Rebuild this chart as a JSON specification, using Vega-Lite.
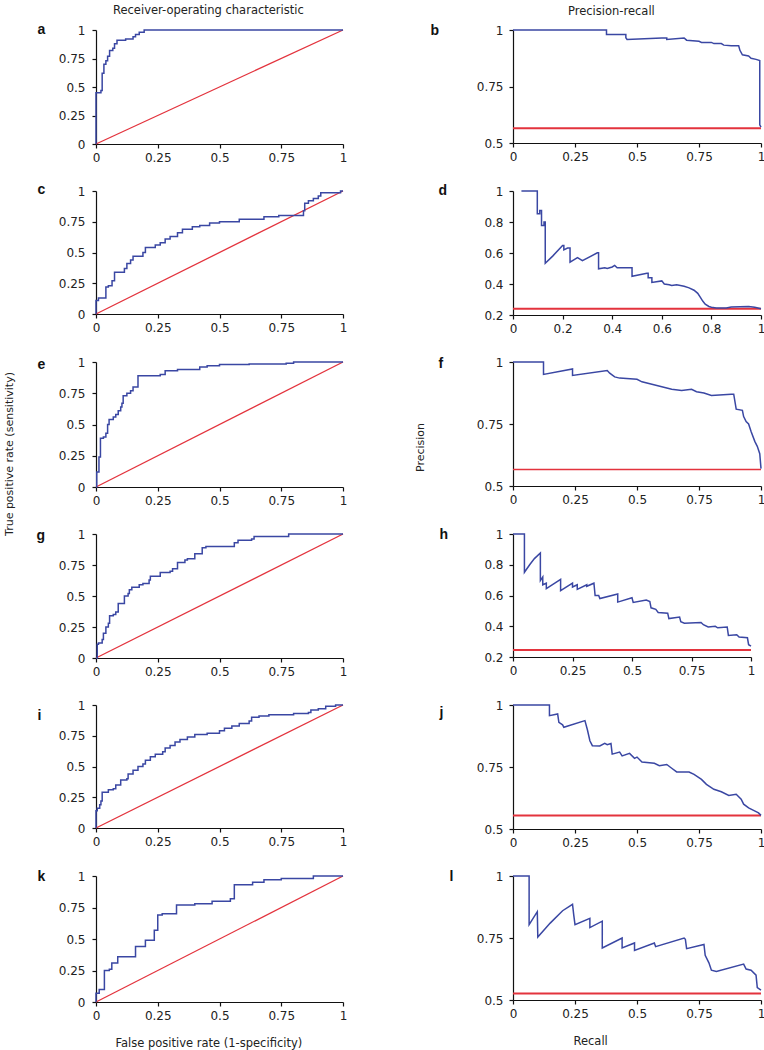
{
  "$schema": "https://vega.github.io/schema/vega-lite/v6.json",
  "padding": {"left": 3, "top": 4, "right": 0, "bottom": 2},
  "config": {
    "view": {"stroke": null},
    "font": "DejaVu Sans",
    "axis": {"grid": false, "domainColor": "#111", "domainWidth": 1.2, "tickColor": "#111", "tickWidth": 1.2, "tickSize": 4, "labelFont": "DejaVu Sans", "labelFontSize": 12, "labelColor": "#222", "labelFlush": false, "labelOverlap": false},
    "axisX": {"labelPadding": 4, "titleFont": "DejaVu Sans", "titleFontSize": 11.5, "titleFontWeight": "normal", "titleColor": "#222", "titleAlign": "left", "titleBaseline": "alphabetic", "titleY": 44},
    "axisY": {"labelPadding": 7, "titleFont": "Liberation Sans", "titleFontSize": 14, "titleFontWeight": "bold", "titleColor": "#111", "titleAngle": 0, "titleAlign": "left", "titleBaseline": "alphabetic"},
    "title": {"font": "DejaVu Sans", "fontSize": 11.5, "fontWeight": "normal", "color": "#222"}
  },
  "datasets": {
    "curves": [
      {"p":"a","s":"r","x":0,"y":0},{"p":"a","s":"r","x":1,"y":1},
      {"p":"a","s":"m","x":0,"y":0},{"p":"a","s":"m","x":0,"y":0.45},{"p":"a","s":"m","x":0.02,"y":0.47},{"p":"a","s":"m","x":0.025,"y":0.62},{"p":"a","s":"m","x":0.032,"y":0.7},{"p":"a","s":"m","x":0.04,"y":0.73},{"p":"a","s":"m","x":0.047,"y":0.77},{"p":"a","s":"m","x":0.055,"y":0.82},{"p":"a","s":"m","x":0.068,"y":0.84},{"p":"a","s":"m","x":0.075,"y":0.88},{"p":"a","s":"m","x":0.085,"y":0.91},{"p":"a","s":"m","x":0.12,"y":0.92},{"p":"a","s":"m","x":0.15,"y":0.94},{"p":"a","s":"m","x":0.16,"y":0.96},{"p":"a","s":"m","x":0.175,"y":0.98},{"p":"a","s":"m","x":0.195,"y":1},{"p":"a","s":"m","x":1,"y":1},

      {"p":"c","s":"r","x":0,"y":0},{"p":"c","s":"r","x":1,"y":1},
      {"p":"c","s":"m","x":0,"y":0},{"p":"c","s":"m","x":0,"y":0.11},{"p":"c","s":"m","x":0.01,"y":0.13},{"p":"c","s":"m","x":0.04,"y":0.22},{"p":"c","s":"m","x":0.05,"y":0.23},{"p":"c","s":"m","x":0.065,"y":0.27},{"p":"c","s":"m","x":0.075,"y":0.34},{"p":"c","s":"m","x":0.115,"y":0.37},{"p":"c","s":"m","x":0.125,"y":0.41},{"p":"c","s":"m","x":0.14,"y":0.44},{"p":"c","s":"m","x":0.15,"y":0.47},{"p":"c","s":"m","x":0.19,"y":0.5},{"p":"c","s":"m","x":0.2,"y":0.54},{"p":"c","s":"m","x":0.24,"y":0.56},{"p":"c","s":"m","x":0.26,"y":0.58},{"p":"c","s":"m","x":0.28,"y":0.61},{"p":"c","s":"m","x":0.3,"y":0.63},{"p":"c","s":"m","x":0.33,"y":0.66},{"p":"c","s":"m","x":0.35,"y":0.69},{"p":"c","s":"m","x":0.39,"y":0.71},{"p":"c","s":"m","x":0.42,"y":0.72},{"p":"c","s":"m","x":0.46,"y":0.74},{"p":"c","s":"m","x":0.5,"y":0.75},{"p":"c","s":"m","x":0.58,"y":0.77},{"p":"c","s":"m","x":0.68,"y":0.79},{"p":"c","s":"m","x":0.74,"y":0.8},{"p":"c","s":"m","x":0.84,"y":0.84},{"p":"c","s":"m","x":0.845,"y":0.9},{"p":"c","s":"m","x":0.86,"y":0.92},{"p":"c","s":"m","x":0.88,"y":0.94},{"p":"c","s":"m","x":0.9,"y":0.96},{"p":"c","s":"m","x":0.91,"y":0.985},{"p":"c","s":"m","x":0.99,"y":1},{"p":"c","s":"m","x":1,"y":1},

      {"p":"e","s":"r","x":0,"y":0},{"p":"e","s":"r","x":1,"y":1},
      {"p":"e","s":"m","x":0,"y":0},{"p":"e","s":"m","x":0.003,"y":0.12},{"p":"e","s":"m","x":0.012,"y":0.24},{"p":"e","s":"m","x":0.018,"y":0.39},{"p":"e","s":"m","x":0.03,"y":0.4},{"p":"e","s":"m","x":0.04,"y":0.43},{"p":"e","s":"m","x":0.047,"y":0.5},{"p":"e","s":"m","x":0.053,"y":0.54},{"p":"e","s":"m","x":0.07,"y":0.56},{"p":"e","s":"m","x":0.08,"y":0.58},{"p":"e","s":"m","x":0.09,"y":0.61},{"p":"e","s":"m","x":0.1,"y":0.64},{"p":"e","s":"m","x":0.105,"y":0.67},{"p":"e","s":"m","x":0.11,"y":0.73},{"p":"e","s":"m","x":0.125,"y":0.75},{"p":"e","s":"m","x":0.14,"y":0.77},{"p":"e","s":"m","x":0.15,"y":0.8},{"p":"e","s":"m","x":0.17,"y":0.89},{"p":"e","s":"m","x":0.26,"y":0.9},{"p":"e","s":"m","x":0.28,"y":0.93},{"p":"e","s":"m","x":0.33,"y":0.94},{"p":"e","s":"m","x":0.42,"y":0.96},{"p":"e","s":"m","x":0.45,"y":0.97},{"p":"e","s":"m","x":0.5,"y":0.98},{"p":"e","s":"m","x":0.62,"y":0.985},{"p":"e","s":"m","x":0.77,"y":0.99},{"p":"e","s":"m","x":0.8,"y":1},{"p":"e","s":"m","x":1,"y":1},

      {"p":"g","s":"r","x":0,"y":0},{"p":"g","s":"r","x":1,"y":1},
      {"p":"g","s":"m","x":0,"y":0},{"p":"g","s":"m","x":0.005,"y":0.11},{"p":"g","s":"m","x":0.01,"y":0.12},{"p":"g","s":"m","x":0.025,"y":0.15},{"p":"g","s":"m","x":0.03,"y":0.2},{"p":"g","s":"m","x":0.04,"y":0.25},{"p":"g","s":"m","x":0.05,"y":0.28},{"p":"g","s":"m","x":0.055,"y":0.34},{"p":"g","s":"m","x":0.07,"y":0.35},{"p":"g","s":"m","x":0.08,"y":0.37},{"p":"g","s":"m","x":0.09,"y":0.44},{"p":"g","s":"m","x":0.115,"y":0.5},{"p":"g","s":"m","x":0.13,"y":0.52},{"p":"g","s":"m","x":0.135,"y":0.55},{"p":"g","s":"m","x":0.145,"y":0.57},{"p":"g","s":"m","x":0.175,"y":0.59},{"p":"g","s":"m","x":0.19,"y":0.6},{"p":"g","s":"m","x":0.215,"y":0.63},{"p":"g","s":"m","x":0.22,"y":0.66},{"p":"g","s":"m","x":0.26,"y":0.69},{"p":"g","s":"m","x":0.3,"y":0.7},{"p":"g","s":"m","x":0.31,"y":0.72},{"p":"g","s":"m","x":0.33,"y":0.77},{"p":"g","s":"m","x":0.36,"y":0.79},{"p":"g","s":"m","x":0.37,"y":0.8},{"p":"g","s":"m","x":0.4,"y":0.84},{"p":"g","s":"m","x":0.43,"y":0.89},{"p":"g","s":"m","x":0.445,"y":0.9},{"p":"g","s":"m","x":0.56,"y":0.93},{"p":"g","s":"m","x":0.575,"y":0.95},{"p":"g","s":"m","x":0.63,"y":0.96},{"p":"g","s":"m","x":0.64,"y":0.98},{"p":"g","s":"m","x":0.78,"y":1},{"p":"g","s":"m","x":1,"y":1},

      {"p":"i","s":"r","x":0,"y":0},{"p":"i","s":"r","x":1,"y":1},
      {"p":"i","s":"m","x":0,"y":0},{"p":"i","s":"m","x":0,"y":0.14},{"p":"i","s":"m","x":0.005,"y":0.16},{"p":"i","s":"m","x":0.015,"y":0.19},{"p":"i","s":"m","x":0.02,"y":0.22},{"p":"i","s":"m","x":0.025,"y":0.29},{"p":"i","s":"m","x":0.05,"y":0.31},{"p":"i","s":"m","x":0.07,"y":0.32},{"p":"i","s":"m","x":0.08,"y":0.35},{"p":"i","s":"m","x":0.1,"y":0.39},{"p":"i","s":"m","x":0.125,"y":0.4},{"p":"i","s":"m","x":0.13,"y":0.44},{"p":"i","s":"m","x":0.15,"y":0.47},{"p":"i","s":"m","x":0.17,"y":0.5},{"p":"i","s":"m","x":0.19,"y":0.52},{"p":"i","s":"m","x":0.2,"y":0.55},{"p":"i","s":"m","x":0.22,"y":0.58},{"p":"i","s":"m","x":0.24,"y":0.6},{"p":"i","s":"m","x":0.27,"y":0.62},{"p":"i","s":"m","x":0.28,"y":0.65},{"p":"i","s":"m","x":0.3,"y":0.67},{"p":"i","s":"m","x":0.32,"y":0.7},{"p":"i","s":"m","x":0.34,"y":0.72},{"p":"i","s":"m","x":0.37,"y":0.74},{"p":"i","s":"m","x":0.4,"y":0.76},{"p":"i","s":"m","x":0.45,"y":0.77},{"p":"i","s":"m","x":0.5,"y":0.79},{"p":"i","s":"m","x":0.52,"y":0.81},{"p":"i","s":"m","x":0.55,"y":0.83},{"p":"i","s":"m","x":0.58,"y":0.85},{"p":"i","s":"m","x":0.62,"y":0.87},{"p":"i","s":"m","x":0.63,"y":0.9},{"p":"i","s":"m","x":0.66,"y":0.91},{"p":"i","s":"m","x":0.7,"y":0.92},{"p":"i","s":"m","x":0.8,"y":0.93},{"p":"i","s":"m","x":0.86,"y":0.94},{"p":"i","s":"m","x":0.87,"y":0.96},{"p":"i","s":"m","x":0.9,"y":0.97},{"p":"i","s":"m","x":0.93,"y":0.99},{"p":"i","s":"m","x":0.97,"y":1},{"p":"i","s":"m","x":1,"y":1},

      {"p":"k","s":"r","x":0,"y":0},{"p":"k","s":"r","x":1,"y":1},
      {"p":"k","s":"m","x":0,"y":0},{"p":"k","s":"m","x":0,"y":0.07},{"p":"k","s":"m","x":0.013,"y":0.1},{"p":"k","s":"m","x":0.034,"y":0.25},{"p":"k","s":"m","x":0.054,"y":0.26},{"p":"k","s":"m","x":0.064,"y":0.31},{"p":"k","s":"m","x":0.088,"y":0.36},{"p":"k","s":"m","x":0.16,"y":0.44},{"p":"k","s":"m","x":0.2,"y":0.49},{"p":"k","s":"m","x":0.236,"y":0.57},{"p":"k","s":"m","x":0.25,"y":0.69},{"p":"k","s":"m","x":0.268,"y":0.7},{"p":"k","s":"m","x":0.326,"y":0.77},{"p":"k","s":"m","x":0.4,"y":0.78},{"p":"k","s":"m","x":0.47,"y":0.8},{"p":"k","s":"m","x":0.544,"y":0.82},{"p":"k","s":"m","x":0.56,"y":0.93},{"p":"k","s":"m","x":0.634,"y":0.95},{"p":"k","s":"m","x":0.68,"y":0.97},{"p":"k","s":"m","x":0.75,"y":0.98},{"p":"k","s":"m","x":0.88,"y":1},{"p":"k","s":"m","x":1,"y":1},

      {"p":"b","s":"r","x":0,"y":0.565},{"p":"b","s":"r","x":1,"y":0.565},
      {"p":"b","s":"m","x":0,"y":1},{"p":"b","s":"m","x":0.377,"y":1},{"p":"b","s":"m","x":0.377,"y":0.98},{"p":"b","s":"m","x":0.455,"y":0.98},{"p":"b","s":"m","x":0.455,"y":0.966},{"p":"b","s":"m","x":0.46,"y":0.958},{"p":"b","s":"m","x":0.6,"y":0.965},{"p":"b","s":"m","x":0.62,"y":0.965},{"p":"b","s":"m","x":0.62,"y":0.958},{"p":"b","s":"m","x":0.69,"y":0.965},{"p":"b","s":"m","x":0.7,"y":0.955},{"p":"b","s":"m","x":0.75,"y":0.95},{"p":"b","s":"m","x":0.76,"y":0.945},{"p":"b","s":"m","x":0.8,"y":0.945},{"p":"b","s":"m","x":0.81,"y":0.94},{"p":"b","s":"m","x":0.84,"y":0.94},{"p":"b","s":"m","x":0.85,"y":0.933},{"p":"b","s":"m","x":0.88,"y":0.93},{"p":"b","s":"m","x":0.91,"y":0.93},{"p":"b","s":"m","x":0.915,"y":0.91},{"p":"b","s":"m","x":0.925,"y":0.89},{"p":"b","s":"m","x":0.95,"y":0.885},{"p":"b","s":"m","x":0.96,"y":0.875},{"p":"b","s":"m","x":0.98,"y":0.87},{"p":"b","s":"m","x":0.995,"y":0.865},{"p":"b","s":"m","x":0.995,"y":0.58},{"p":"b","s":"m","x":1,"y":0.57},

      {"p":"d","s":"r","x":0,"y":0.24},{"p":"d","s":"r","x":1,"y":0.24},
      {"p":"d","s":"m","x":0.034,"y":1},{"p":"d","s":"m","x":0.098,"y":1},{"p":"d","s":"m","x":0.098,"y":0.853},{"p":"d","s":"m","x":0.108,"y":0.853},{"p":"d","s":"m","x":0.108,"y":0.875},{"p":"d","s":"m","x":0.115,"y":0.875},{"p":"d","s":"m","x":0.115,"y":0.778},{"p":"d","s":"m","x":0.125,"y":0.778},{"p":"d","s":"m","x":0.125,"y":0.8},{"p":"d","s":"m","x":0.13,"y":0.8},{"p":"d","s":"m","x":0.13,"y":0.534},{"p":"d","s":"m","x":0.16,"y":0.58},{"p":"d","s":"m","x":0.2,"y":0.649},{"p":"d","s":"m","x":0.205,"y":0.649},{"p":"d","s":"m","x":0.205,"y":0.62},{"p":"d","s":"m","x":0.22,"y":0.632},{"p":"d","s":"m","x":0.23,"y":0.632},{"p":"d","s":"m","x":0.23,"y":0.541},{"p":"d","s":"m","x":0.26,"y":0.57},{"p":"d","s":"m","x":0.27,"y":0.56},{"p":"d","s":"m","x":0.28,"y":0.55},{"p":"d","s":"m","x":0.34,"y":0.601},{"p":"d","s":"m","x":0.345,"y":0.601},{"p":"d","s":"m","x":0.345,"y":0.498},{"p":"d","s":"m","x":0.37,"y":0.505},{"p":"d","s":"m","x":0.38,"y":0.5},{"p":"d","s":"m","x":0.4,"y":0.51},{"p":"d","s":"m","x":0.41,"y":0.52},{"p":"d","s":"m","x":0.42,"y":0.505},{"p":"d","s":"m","x":0.48,"y":0.505},{"p":"d","s":"m","x":0.48,"y":0.45},{"p":"d","s":"m","x":0.54,"y":0.47},{"p":"d","s":"m","x":0.545,"y":0.47},{"p":"d","s":"m","x":0.545,"y":0.44},{"p":"d","s":"m","x":0.56,"y":0.44},{"p":"d","s":"m","x":0.56,"y":0.41},{"p":"d","s":"m","x":0.6,"y":0.42},{"p":"d","s":"m","x":0.61,"y":0.4},{"p":"d","s":"m","x":0.63,"y":0.395},{"p":"d","s":"m","x":0.64,"y":0.39},{"p":"d","s":"m","x":0.66,"y":0.395},{"p":"d","s":"m","x":0.69,"y":0.385},{"p":"d","s":"m","x":0.71,"y":0.375},{"p":"d","s":"m","x":0.73,"y":0.36},{"p":"d","s":"m","x":0.745,"y":0.34},{"p":"d","s":"m","x":0.755,"y":0.315},{"p":"d","s":"m","x":0.765,"y":0.29},{"p":"d","s":"m","x":0.775,"y":0.27},{"p":"d","s":"m","x":0.79,"y":0.255},{"p":"d","s":"m","x":0.8,"y":0.25},{"p":"d","s":"m","x":0.82,"y":0.245},{"p":"d","s":"m","x":0.86,"y":0.245},{"p":"d","s":"m","x":0.88,"y":0.252},{"p":"d","s":"m","x":0.95,"y":0.255},{"p":"d","s":"m","x":0.975,"y":0.25},{"p":"d","s":"m","x":1,"y":0.24},

      {"p":"f","s":"r","x":0,"y":0.567},{"p":"f","s":"r","x":1,"y":0.567},
      {"p":"f","s":"m","x":0,"y":1},{"p":"f","s":"m","x":0.123,"y":1},{"p":"f","s":"m","x":0.123,"y":0.95},{"p":"f","s":"m","x":0.24,"y":0.972},{"p":"f","s":"m","x":0.24,"y":0.946},{"p":"f","s":"m","x":0.38,"y":0.966},{"p":"f","s":"m","x":0.39,"y":0.955},{"p":"f","s":"m","x":0.41,"y":0.94},{"p":"f","s":"m","x":0.43,"y":0.935},{"p":"f","s":"m","x":0.5,"y":0.93},{"p":"f","s":"m","x":0.52,"y":0.92},{"p":"f","s":"m","x":0.56,"y":0.91},{"p":"f","s":"m","x":0.6,"y":0.9},{"p":"f","s":"m","x":0.64,"y":0.89},{"p":"f","s":"m","x":0.68,"y":0.885},{"p":"f","s":"m","x":0.72,"y":0.89},{"p":"f","s":"m","x":0.74,"y":0.88},{"p":"f","s":"m","x":0.77,"y":0.875},{"p":"f","s":"m","x":0.8,"y":0.865},{"p":"f","s":"m","x":0.88,"y":0.87},{"p":"f","s":"m","x":0.89,"y":0.87},{"p":"f","s":"m","x":0.9,"y":0.81},{"p":"f","s":"m","x":0.925,"y":0.805},{"p":"f","s":"m","x":0.93,"y":0.78},{"p":"f","s":"m","x":0.94,"y":0.76},{"p":"f","s":"m","x":0.95,"y":0.75},{"p":"f","s":"m","x":0.96,"y":0.72},{"p":"f","s":"m","x":0.975,"y":0.68},{"p":"f","s":"m","x":0.985,"y":0.66},{"p":"f","s":"m","x":0.995,"y":0.63},{"p":"f","s":"m","x":1,"y":0.57},

      {"p":"h","s":"r","x":0,"y":0.245},{"p":"h","s":"r","x":1,"y":0.245},
      {"p":"h","s":"m","x":0,"y":1},{"p":"h","s":"m","x":0.048,"y":1},{"p":"h","s":"m","x":0.048,"y":0.751},{"p":"h","s":"m","x":0.07,"y":0.8},{"p":"h","s":"m","x":0.09,"y":0.84},{"p":"h","s":"m","x":0.115,"y":0.877},{"p":"h","s":"m","x":0.115,"y":0.697},{"p":"h","s":"m","x":0.125,"y":0.72},{"p":"h","s":"m","x":0.125,"y":0.67},{"p":"h","s":"m","x":0.14,"y":0.68},{"p":"h","s":"m","x":0.14,"y":0.645},{"p":"h","s":"m","x":0.2,"y":0.705},{"p":"h","s":"m","x":0.2,"y":0.632},{"p":"h","s":"m","x":0.25,"y":0.68},{"p":"h","s":"m","x":0.25,"y":0.655},{"p":"h","s":"m","x":0.27,"y":0.67},{"p":"h","s":"m","x":0.27,"y":0.64},{"p":"h","s":"m","x":0.31,"y":0.67},{"p":"h","s":"m","x":0.31,"y":0.66},{"p":"h","s":"m","x":0.34,"y":0.68},{"p":"h","s":"m","x":0.345,"y":0.6},{"p":"h","s":"m","x":0.36,"y":0.6},{"p":"h","s":"m","x":0.365,"y":0.58},{"p":"h","s":"m","x":0.44,"y":0.61},{"p":"h","s":"m","x":0.44,"y":0.557},{"p":"h","s":"m","x":0.5,"y":0.585},{"p":"h","s":"m","x":0.505,"y":0.555},{"p":"h","s":"m","x":0.56,"y":0.57},{"p":"h","s":"m","x":0.575,"y":0.56},{"p":"h","s":"m","x":0.58,"y":0.52},{"p":"h","s":"m","x":0.6,"y":0.51},{"p":"h","s":"m","x":0.61,"y":0.49},{"p":"h","s":"m","x":0.65,"y":0.485},{"p":"h","s":"m","x":0.655,"y":0.45},{"p":"h","s":"m","x":0.7,"y":0.46},{"p":"h","s":"m","x":0.705,"y":0.43},{"p":"h","s":"m","x":0.72,"y":0.42},{"p":"h","s":"m","x":0.79,"y":0.425},{"p":"h","s":"m","x":0.8,"y":0.41},{"p":"h","s":"m","x":0.82,"y":0.395},{"p":"h","s":"m","x":0.85,"y":0.4},{"p":"h","s":"m","x":0.86,"y":0.39},{"p":"h","s":"m","x":0.9,"y":0.395},{"p":"h","s":"m","x":0.905,"y":0.34},{"p":"h","s":"m","x":0.94,"y":0.345},{"p":"h","s":"m","x":0.95,"y":0.33},{"p":"h","s":"m","x":0.985,"y":0.325},{"p":"h","s":"m","x":0.99,"y":0.28},{"p":"h","s":"m","x":1,"y":0.27},

      {"p":"j","s":"r","x":0,"y":0.554},{"p":"j","s":"r","x":1,"y":0.554},
      {"p":"j","s":"m","x":0,"y":1},{"p":"j","s":"m","x":0.147,"y":1},{"p":"j","s":"m","x":0.147,"y":0.957},{"p":"j","s":"m","x":0.18,"y":0.964},{"p":"j","s":"m","x":0.185,"y":0.93},{"p":"j","s":"m","x":0.2,"y":0.92},{"p":"j","s":"m","x":0.205,"y":0.91},{"p":"j","s":"m","x":0.29,"y":0.937},{"p":"j","s":"m","x":0.3,"y":0.9},{"p":"j","s":"m","x":0.31,"y":0.856},{"p":"j","s":"m","x":0.32,"y":0.836},{"p":"j","s":"m","x":0.35,"y":0.835},{"p":"j","s":"m","x":0.37,"y":0.845},{"p":"j","s":"m","x":0.38,"y":0.84},{"p":"j","s":"m","x":0.395,"y":0.845},{"p":"j","s":"m","x":0.4,"y":0.802},{"p":"j","s":"m","x":0.43,"y":0.81},{"p":"j","s":"m","x":0.44,"y":0.795},{"p":"j","s":"m","x":0.47,"y":0.805},{"p":"j","s":"m","x":0.49,"y":0.785},{"p":"j","s":"m","x":0.5,"y":0.79},{"p":"j","s":"m","x":0.52,"y":0.77},{"p":"j","s":"m","x":0.57,"y":0.765},{"p":"j","s":"m","x":0.59,"y":0.755},{"p":"j","s":"m","x":0.62,"y":0.76},{"p":"j","s":"m","x":0.64,"y":0.745},{"p":"j","s":"m","x":0.66,"y":0.73},{"p":"j","s":"m","x":0.71,"y":0.73},{"p":"j","s":"m","x":0.73,"y":0.72},{"p":"j","s":"m","x":0.76,"y":0.7},{"p":"j","s":"m","x":0.78,"y":0.68},{"p":"j","s":"m","x":0.81,"y":0.66},{"p":"j","s":"m","x":0.84,"y":0.65},{"p":"j","s":"m","x":0.87,"y":0.635},{"p":"j","s":"m","x":0.9,"y":0.64},{"p":"j","s":"m","x":0.92,"y":0.62},{"p":"j","s":"m","x":0.93,"y":0.6},{"p":"j","s":"m","x":0.95,"y":0.585},{"p":"j","s":"m","x":0.97,"y":0.575},{"p":"j","s":"m","x":0.99,"y":0.565},{"p":"j","s":"m","x":1,"y":0.555},

      {"p":"l","s":"r","x":0,"y":0.526},{"p":"l","s":"r","x":1,"y":0.526},
      {"p":"l","s":"m","x":0,"y":1},{"p":"l","s":"m","x":0.065,"y":1},{"p":"l","s":"m","x":0.065,"y":0.804},{"p":"l","s":"m","x":0.098,"y":0.856},{"p":"l","s":"m","x":0.1,"y":0.754},{"p":"l","s":"m","x":0.15,"y":0.81},{"p":"l","s":"m","x":0.2,"y":0.86},{"p":"l","s":"m","x":0.24,"y":0.886},{"p":"l","s":"m","x":0.245,"y":0.842},{"p":"l","s":"m","x":0.25,"y":0.804},{"p":"l","s":"m","x":0.31,"y":0.829},{"p":"l","s":"m","x":0.31,"y":0.792},{"p":"l","s":"m","x":0.36,"y":0.818},{"p":"l","s":"m","x":0.36,"y":0.71},{"p":"l","s":"m","x":0.44,"y":0.75},{"p":"l","s":"m","x":0.44,"y":0.71},{"p":"l","s":"m","x":0.49,"y":0.73},{"p":"l","s":"m","x":0.49,"y":0.7},{"p":"l","s":"m","x":0.57,"y":0.73},{"p":"l","s":"m","x":0.575,"y":0.715},{"p":"l","s":"m","x":0.69,"y":0.75},{"p":"l","s":"m","x":0.695,"y":0.745},{"p":"l","s":"m","x":0.7,"y":0.707},{"p":"l","s":"m","x":0.77,"y":0.724},{"p":"l","s":"m","x":0.775,"y":0.68},{"p":"l","s":"m","x":0.79,"y":0.65},{"p":"l","s":"m","x":0.8,"y":0.62},{"p":"l","s":"m","x":0.82,"y":0.615},{"p":"l","s":"m","x":0.93,"y":0.645},{"p":"l","s":"m","x":0.94,"y":0.625},{"p":"l","s":"m","x":0.96,"y":0.62},{"p":"l","s":"m","x":0.98,"y":0.6},{"p":"l","s":"m","x":0.985,"y":0.55},{"p":"l","s":"m","x":1,"y":0.54}
    ]
  },
  "data": {"name": "curves"},
  "columns": 2,
  "align": "each",
  "bounds": "flush",
  "spacing": {"row": 47, "column": 170},
  "concat": [
    {
      "width": 247, "height": 114,
      "title": {"text": "Receiver-operating characteristic", "anchor": "start", "frame": "group", "dx": 17, "offset": 6},
      "transform": [{"filter": "datum.p == 'a'"}],
      "encoding": {
        "x": {"field": "x", "type": "quantitative", "scale": {"domain": [0, 1], "nice": false, "zero": false}, "axis": {"values": [0, 0.25, 0.5, 0.75, 1], "format": ".2~f", "title": null}},
        "y": {"field": "y", "type": "quantitative", "scale": {"domain": [0, 1], "nice": false, "zero": false}, "axis": {"values": [0, 0.25, 0.5, 0.75, 1], "format": ".2~f", "title": "a", "titleX": -59, "titleY": 3}},
        "order": {"value": null}
      },
      "layer": [
        {"transform": [{"filter": "datum.s == 'r'"}], "mark": {"type": "line", "color": "#e3333d", "strokeWidth": 1.3}},
        {"transform": [{"filter": "datum.s == 'm'"}], "mark": {"type": "line", "color": "#3a47a3", "strokeWidth": 1.5, "interpolate": "step-after"}}
      ]
    },
    {
      "width": 248, "height": 113,
      "title": {"text": "Precision-recall", "anchor": "start", "frame": "group", "dx": 55, "offset": 6},
      "transform": [{"filter": "datum.p == 'b'"}],
      "encoding": {
        "x": {"field": "x", "type": "quantitative", "scale": {"domain": [0, 1], "nice": false, "zero": false}, "axis": {"values": [0, 0.25, 0.5, 0.75, 1], "format": ".2~f", "title": null}},
        "y": {"field": "y", "type": "quantitative", "scale": {"domain": [0.5, 1], "nice": false, "zero": false}, "axis": {"values": [0.5, 0.75, 1], "format": ".2~f", "labelPadding": 6, "title": "b", "titleX": -83, "titleY": 4}},
        "order": {"value": null}
      },
      "layer": [
        {"transform": [{"filter": "datum.s == 'r'"}], "mark": {"type": "line", "color": "#e3333d", "strokeWidth": 2}},
        {"transform": [{"filter": "datum.s == 'm'"}], "mark": {"type": "line", "color": "#3a47a3", "strokeWidth": 1.5}}
      ]
    },
    {
      "width": 247, "height": 123,
      "transform": [{"filter": "datum.p == 'c'"}],
      "encoding": {
        "x": {"field": "x", "type": "quantitative", "scale": {"domain": [0, 1], "nice": false, "zero": false}, "axis": {"values": [0, 0.25, 0.5, 0.75, 1], "format": ".2~f", "title": null}},
        "y": {"field": "y", "type": "quantitative", "scale": {"domain": [0, 1], "nice": false, "zero": false}, "axis": {"values": [0, 0.25, 0.5, 0.75, 1], "format": ".2~f", "title": "c", "titleX": -59, "titleY": 2}},
        "order": {"value": null}
      },
      "layer": [
        {"transform": [{"filter": "datum.s == 'r'"}], "mark": {"type": "line", "color": "#e3333d", "strokeWidth": 1.3}},
        {"transform": [{"filter": "datum.s == 'm'"}], "mark": {"type": "line", "color": "#3a47a3", "strokeWidth": 1.5, "interpolate": "step-after"}}
      ]
    },
    {
      "width": 248, "height": 124,
      "transform": [{"filter": "datum.p == 'd'"}],
      "encoding": {
        "x": {"field": "x", "type": "quantitative", "scale": {"domain": [0, 1], "nice": false, "zero": false}, "axis": {"values": [0, 0.2, 0.4, 0.6, 0.8, 1], "format": ".2~f", "title": null}},
        "y": {"field": "y", "type": "quantitative", "scale": {"domain": [0.2, 1], "nice": false, "zero": false}, "axis": {"values": [0.2, 0.4, 0.6, 0.8, 1], "format": ".2~f", "labelPadding": 6, "title": "d", "titleX": -75, "titleY": 3}},
        "order": {"value": null}
      },
      "layer": [
        {"transform": [{"filter": "datum.s == 'r'"}], "mark": {"type": "line", "color": "#e3333d", "strokeWidth": 2}},
        {"transform": [{"filter": "datum.s == 'm'"}], "mark": {"type": "line", "color": "#3a47a3", "strokeWidth": 1.5}}
      ]
    },
    {
      "width": 247, "height": 125,
      "title": {"text": "True positive rate (sensitivity)", "orient": "left", "anchor": "middle", "frame": "bounds", "offset": 22, "dx": -23, "fontSize": 11},
      "transform": [{"filter": "datum.p == 'e'"}],
      "encoding": {
        "x": {"field": "x", "type": "quantitative", "scale": {"domain": [0, 1], "nice": false, "zero": false}, "axis": {"values": [0, 0.25, 0.5, 0.75, 1], "format": ".2~f", "title": null}},
        "y": {"field": "y", "type": "quantitative", "scale": {"domain": [0, 1], "nice": false, "zero": false}, "axis": {"values": [0, 0.25, 0.5, 0.75, 1], "format": ".2~f", "title": "e", "titleX": -59, "titleY": 6}},
        "order": {"value": null}
      },
      "layer": [
        {"transform": [{"filter": "datum.s == 'r'"}], "mark": {"type": "line", "color": "#e3333d", "strokeWidth": 1.3}},
        {"transform": [{"filter": "datum.s == 'm'"}], "mark": {"type": "line", "color": "#3a47a3", "strokeWidth": 1.5, "interpolate": "step-after"}}
      ]
    },
    {
      "width": 248, "height": 124,
      "title": {"text": "Precision", "orient": "left", "anchor": "middle", "frame": "bounds", "offset": 12, "dx": -17, "fontSize": 11},
      "transform": [{"filter": "datum.p == 'f'"}],
      "encoding": {
        "x": {"field": "x", "type": "quantitative", "scale": {"domain": [0, 1], "nice": false, "zero": false}, "axis": {"values": [0, 0.25, 0.5, 0.75, 1], "format": ".2~f", "title": null}},
        "y": {"field": "y", "type": "quantitative", "scale": {"domain": [0.5, 1], "nice": false, "zero": false}, "axis": {"values": [0.5, 0.75, 1], "format": ".2~f", "labelPadding": 6, "title": "f", "titleX": -75, "titleY": 5}},
        "order": {"value": null}
      },
      "layer": [
        {"transform": [{"filter": "datum.s == 'r'"}], "mark": {"type": "line", "color": "#e3333d", "strokeWidth": 1.5}},
        {"transform": [{"filter": "datum.s == 'm'"}], "mark": {"type": "line", "color": "#3a47a3", "strokeWidth": 1.5}}
      ]
    },
    {
      "width": 247, "height": 124,
      "transform": [{"filter": "datum.p == 'g'"}],
      "encoding": {
        "x": {"field": "x", "type": "quantitative", "scale": {"domain": [0, 1], "nice": false, "zero": false}, "axis": {"values": [0, 0.25, 0.5, 0.75, 1], "format": ".2~f", "title": null}},
        "y": {"field": "y", "type": "quantitative", "scale": {"domain": [0, 1], "nice": false, "zero": false}, "axis": {"values": [0, 0.25, 0.5, 0.75, 1], "format": ".2~f", "title": "g", "titleX": -60, "titleY": 5}},
        "order": {"value": null}
      },
      "layer": [
        {"transform": [{"filter": "datum.s == 'r'"}], "mark": {"type": "line", "color": "#e3333d", "strokeWidth": 1.3}},
        {"transform": [{"filter": "datum.s == 'm'"}], "mark": {"type": "line", "color": "#3a47a3", "strokeWidth": 1.5, "interpolate": "step-after"}}
      ]
    },
    {
      "width": 238, "height": 123,
      "transform": [{"filter": "datum.p == 'h'"}],
      "encoding": {
        "x": {"field": "x", "type": "quantitative", "scale": {"domain": [0, 1], "nice": false, "zero": false}, "axis": {"values": [0, 0.25, 0.5, 0.75, 1], "format": ".2~f", "title": null}},
        "y": {"field": "y", "type": "quantitative", "scale": {"domain": [0.2, 1], "nice": false, "zero": false}, "axis": {"values": [0.2, 0.4, 0.6, 0.8, 1], "format": ".2~f", "labelPadding": 6, "title": "h", "titleX": -74, "titleY": 4}},
        "order": {"value": null}
      },
      "layer": [
        {"transform": [{"filter": "datum.s == 'r'"}], "mark": {"type": "line", "color": "#e3333d", "strokeWidth": 2}},
        {"transform": [{"filter": "datum.s == 'm'"}], "mark": {"type": "line", "color": "#3a47a3", "strokeWidth": 1.5}}
      ]
    },
    {
      "width": 247, "height": 123,
      "transform": [{"filter": "datum.p == 'i'"}],
      "encoding": {
        "x": {"field": "x", "type": "quantitative", "scale": {"domain": [0, 1], "nice": false, "zero": false}, "axis": {"values": [0, 0.25, 0.5, 0.75, 1], "format": ".2~f", "title": null}},
        "y": {"field": "y", "type": "quantitative", "scale": {"domain": [0, 1], "nice": false, "zero": false}, "axis": {"values": [0, 0.25, 0.5, 0.75, 1], "format": ".2~f", "title": "i", "titleX": -59, "titleY": 14}},
        "order": {"value": null}
      },
      "layer": [
        {"transform": [{"filter": "datum.s == 'r'"}], "mark": {"type": "line", "color": "#e3333d", "strokeWidth": 1.3}},
        {"transform": [{"filter": "datum.s == 'm'"}], "mark": {"type": "line", "color": "#3a47a3", "strokeWidth": 1.5, "interpolate": "step-after"}}
      ]
    },
    {
      "width": 248, "height": 124,
      "transform": [{"filter": "datum.p == 'j'"}],
      "encoding": {
        "x": {"field": "x", "type": "quantitative", "scale": {"domain": [0, 1], "nice": false, "zero": false}, "axis": {"values": [0, 0.25, 0.5, 0.75, 1], "format": ".2~f", "title": null}},
        "y": {"field": "y", "type": "quantitative", "scale": {"domain": [0.5, 1], "nice": false, "zero": false}, "axis": {"values": [0.5, 0.75, 1], "format": ".2~f", "labelPadding": 6, "title": "j", "titleX": -74, "titleY": 11}},
        "order": {"value": null}
      },
      "layer": [
        {"transform": [{"filter": "datum.s == 'r'"}], "mark": {"type": "line", "color": "#e3333d", "strokeWidth": 2}},
        {"transform": [{"filter": "datum.s == 'm'"}], "mark": {"type": "line", "color": "#3a47a3", "strokeWidth": 1.5}}
      ]
    },
    {
      "width": 247, "height": 126,
      "transform": [{"filter": "datum.p == 'k'"}],
      "encoding": {
        "x": {"field": "x", "type": "quantitative", "scale": {"domain": [0, 1], "nice": false, "zero": false}, "axis": {"values": [0, 0.25, 0.5, 0.75, 1], "format": ".2~f", "title": "False positive rate (1-specificity)", "titleX": 19}},
        "y": {"field": "y", "type": "quantitative", "scale": {"domain": [0, 1], "nice": false, "zero": false}, "axis": {"values": [0, 0.25, 0.5, 0.75, 1], "format": ".2~f", "title": "k", "titleX": -59, "titleY": 4}},
        "order": {"value": null}
      },
      "layer": [
        {"transform": [{"filter": "datum.s == 'r'"}], "mark": {"type": "line", "color": "#e3333d", "strokeWidth": 1.3}},
        {"transform": [{"filter": "datum.s == 'm'"}], "mark": {"type": "line", "color": "#3a47a3", "strokeWidth": 1.5, "interpolate": "step-after"}}
      ]
    },
    {
      "width": 248, "height": 124,
      "transform": [{"filter": "datum.p == 'l'"}],
      "encoding": {
        "x": {"field": "x", "type": "quantitative", "scale": {"domain": [0, 1], "nice": false, "zero": false}, "axis": {"values": [0, 0.25, 0.5, 0.75, 1], "format": ".2~f", "title": "Recall", "titleX": 60}},
        "y": {"field": "y", "type": "quantitative", "scale": {"domain": [0.5, 1], "nice": false, "zero": false}, "axis": {"values": [0.5, 0.75, 1], "format": ".2~f", "labelPadding": 6, "title": "l", "titleX": -64, "titleY": 4}},
        "order": {"value": null}
      },
      "layer": [
        {"transform": [{"filter": "datum.s == 'r'"}], "mark": {"type": "line", "color": "#e3333d", "strokeWidth": 2}},
        {"transform": [{"filter": "datum.s == 'm'"}], "mark": {"type": "line", "color": "#3a47a3", "strokeWidth": 1.5}}
      ]
    }
  ]
}
